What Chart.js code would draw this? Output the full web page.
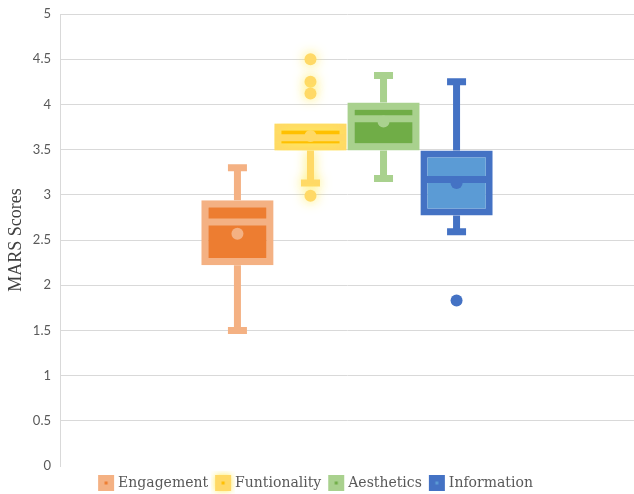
<!DOCTYPE html>
<html>
<head>
<meta charset="utf-8">
<script src="https://cdn.jsdelivr.net/npm/chart.js@4"></script>
<style>
  html, body { margin: 0; padding: 0; background: #ffffff; }
</style>
</head>
<body>
<canvas id="marsChart" width="634" height="494"></canvas>
<script>
// MARS score boxes, one per subscale
const series = ['Engagement', 'Funtionality', 'Aesthetics', 'Information'];
const boxLow = [2.22, 3.49, 3.49, 2.77];
const boxHigh = [2.94, 3.79, 4.02, 3.49];
const medians = [2.70, 3.63, 3.84, 3.17];
const means = [2.57, 3.65, 3.81, 3.13];
const whiskerMin = [1.50, 3.13, 3.18, 2.59];
const whiskerMax = [3.30, 3.79, 4.32, 4.25];
const outliers = [[], [4.50, 4.25, 4.12, 2.99], [], [1.83]];
const yTicks = [0, 0.5, 1, 1.5, 2, 2.5, 3, 3.5, 4, 4.5, 5];

const fillColors = ['#ED7D31', '#FFC000', '#70AD47', '#5B9BD5'];
const lineColors = ['#F4B183', '#FFD966', '#A9D18E', '#4472C4'];

function glow(ctx) {
    ctx.shadowColor = 'rgba(255, 236, 90, 0.95)';
    ctx.shadowBlur = 12;
}

// legend icons: square in the line colour with a small dot
const icons = series.map(function (s, i) {
    const c = document.createElement('canvas');
    c.width = 24; c.height = 24;
    const g = c.getContext('2d');
    if (i === 1) { g.shadowColor = 'rgba(255, 236, 90, 0.95)'; g.shadowBlur = 6; }
    g.fillStyle = lineColors[i];
    g.fillRect(4, 4, 16, 16);
    g.shadowBlur = 0;
    g.fillStyle = fillColors[i];
    g.fillRect(10.5, 10.5, 3, 3);
    return c;
});

const boxExtras = {
    id: 'boxExtras',
    beforeDatasetsDraw(chart) {
        const ctx = chart.ctx, y = chart.scales.y;
        series.forEach(function (s, i) {
            const bar = chart.getDatasetMeta(i).data[0];
            const top = y.getPixelForValue(whiskerMax[i]);
            const bot = y.getPixelForValue(whiskerMin[i]);
            const bTop = y.getPixelForValue(boxHigh[i]);
            const bBot = y.getPixelForValue(boxLow[i]);
            ctx.save();
            if (i === 1) glow(ctx);
            ctx.strokeStyle = lineColors[i];
            ctx.lineWidth = 7;
            ctx.beginPath();
            if (whiskerMax[i] > boxHigh[i]) {
                ctx.moveTo(bar.x, top); ctx.lineTo(bar.x, bTop);
                ctx.moveTo(bar.x - 9.5, top); ctx.lineTo(bar.x + 9.5, top);
            }
            if (whiskerMin[i] < boxLow[i]) {
                ctx.moveTo(bar.x, bBot); ctx.lineTo(bar.x, bot);
                ctx.moveTo(bar.x - 9.5, bot); ctx.lineTo(bar.x + 9.5, bot);
            }
            ctx.stroke();
            ctx.restore();
        });
    },
    beforeDatasetDraw(chart, args) {
        if (args.index === 1) { chart.ctx.save(); glow(chart.ctx); }
    },
    afterDatasetDraw(chart, args) {
        if (args.index === 1) chart.ctx.restore();
    },
    afterDatasetsDraw(chart) {
        const ctx = chart.ctx, y = chart.scales.y;
        series.forEach(function (s, i) {
            const bar = chart.getDatasetMeta(i).data[0];
            const p = bar.getProps(['x', 'width'], true);
            const w = p.width - 2;
            ctx.save();
            ctx.strokeStyle = lineColors[i];
            ctx.fillStyle = lineColors[i];
            ctx.lineWidth = 7;
            const my = y.getPixelForValue(medians[i]);
            ctx.beginPath();
            ctx.moveTo(p.x - w / 2, my); ctx.lineTo(p.x + w / 2, my);
            ctx.stroke();
            ctx.beginPath();
            ctx.arc(p.x, y.getPixelForValue(means[i]), 6, 0, Math.PI * 2);
            ctx.fill();
            if (i === 1) glow(ctx);
            outliers[i].forEach(function (v) {
                ctx.beginPath();
                ctx.arc(p.x, y.getPixelForValue(v), 6, 0, Math.PI * 2);
                ctx.fill();
            });
            ctx.restore();
        });
    }
};

new Chart(document.getElementById('marsChart'), {
    type: 'bar',
    data: {
        labels: [''],
        datasets: series.map(function (s, i) {
            return {
                label: s,
                data: [[boxLow[i], boxHigh[i]]],
                backgroundColor: fillColors[i],
                borderColor: lineColors[i],
                borderWidth: 7,
                borderSkipped: false,
                categoryPercentage: 0.509,
                barPercentage: 0.99
            };
        })
    },
    options: {
        responsive: false,
        animation: false,
        layout: { padding: { top: 14, right: 0, bottom: -6, left: 0 } },
        scales: {
            x: { display: false },
            y: {
                min: 0,
                max: 5,
                afterBuildTicks: function (scale) {
                    scale.ticks = yTicks.map(function (v) { return { value: v }; });
                },
                afterFit: function (scale) {
                    scale.width = 60;
                    scale.paddingTop = 0;
                },
                grid: {
                    color: function (c) { return c.tick && c.tick.value === 0 ? 'rgba(0,0,0,0)' : '#D9D9D9'; },
                    drawTicks: false
                },
                border: { display: true, color: '#D9D9D9' },
                ticks: {
                    padding: 9,
                    color: '#595959',
                    font: { family: 'Lato', size: 13 },
                    callback: function (v) { return String(v); }
                },
                title: {
                    display: true,
                    text: 'MARS Scores',
                    color: '#404040',
                    padding: { top: 5, bottom: 0 },
                    font: { family: "'Liberation Serif', serif", size: 18 }
                }
            }
        },
        plugins: {
            tooltip: { enabled: false },
            legend: {
                position: 'bottom',
                labels: {
                    usePointStyle: true,
                    pointStyleWidth: 10,
                    padding: 10,
                    color: '#595959',
                    font: { family: 'DejaVu Serif', size: 14 },
                    generateLabels: function () {
                        return series.map(function (s, i) {
                            return { text: s, pointStyle: icons[i], datasetIndex: i, hidden: false, lineWidth: 0, fontColor: '#595959' };
                        });
                    }
                }
            }
        }
    },
    plugins: [boxExtras]
});
</script>
</body>
</html>
